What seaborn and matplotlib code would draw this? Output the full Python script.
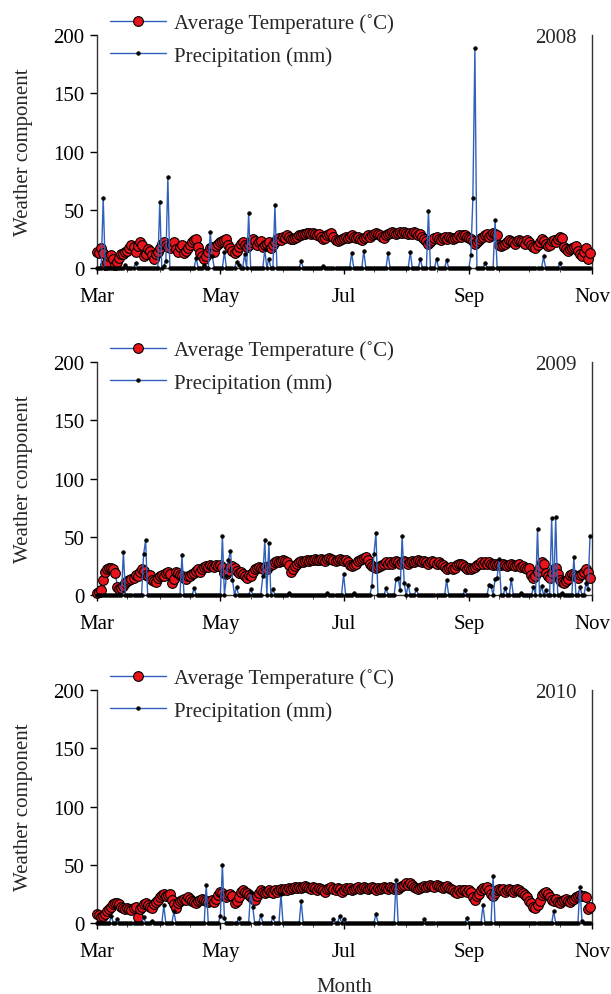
import numpy as np
import pandas as pd
import matplotlib
matplotlib.use("Agg")
import matplotlib.pyplot as plt
import seaborn as sns

# --- colours ---
LINE_BLUE = "#3060B8"
DOT_RED = "#E8141C"

# --- data: one value per day, 1 Mar (day 0) .. 31 Oct (day 244) ---
YEARS = ["2008", "2009", "2010"]
MONTH_LABELS = ["Mar", "May", "Jul", "Sep", "Nov"]
MONTH_DAYS = [0, 61, 122, 184, 245]
HALF_MONTH_DAYS = [15, 31, 46, 76, 92, 107, 137, 153, 168, 199, 214, 229]

TEMP_2008 = [
    14, 13, 17, 13, 3, 5, 10, 11, 8, 3,
    5, 9, 12, 12, 14, 15, 17, 20, 18, 14,
    19, 22, 20, 10, 12, 16, 15, 11, 8, 12,
    14, 17, 21, 22, 20, 18, 17, 20, 22, 16,
    14, 18, 20, 13, 15, 17, 20, 22, 24, 25,
    18, 13, 10, 8, 10, 14, 17, 18, 14, 19,
    21, 22, 23, 24, 25, 20, 17, 15, 13, 15,
    18, 21, 22, 20, 18, 20, 22, 25, 23, 20,
    22, 23, 18, 20, 21, 22, 17, 20, 22, 25,
    26, 24, 27, 26, 28, 27, 25, 25, 26, 27,
    28, 28, 29, 29, 30, 30, 29, 30, 29, 28,
    29, 27, 25, 26, 28, 29, 30, 27, 24, 23,
    24, 25, 26, 27, 26, 27, 28, 27, 26, 27,
    25, 24, 26, 27, 28, 27, 28, 29, 30, 29,
    28, 27, 26, 28, 29, 30, 31, 30, 29, 30,
    31, 30, 31, 30, 29, 30, 29, 31, 30, 28,
    29, 27, 25, 23, 21, 22, 24, 26, 27, 25,
    24, 26, 27, 25, 27, 26, 25, 26, 27, 28,
    27, 28, 28, 27, 26, 25, 23, 21, 22, 24,
    26, 27, 28, 29, 27, 28, 30, 29, 28, 20,
    19, 20, 21, 22, 24, 23, 22, 21, 23, 24,
    23, 22, 21, 24, 22, 20, 18, 17, 20, 22,
    25, 23, 21, 19, 20, 23, 24, 22, 25, 27,
    26, 18, 16, 15, 16, 17, 18, 19, 15, 12,
    10, 14, 17, 8, 13,
]
RAIN_DAYS_2008 = [3, 14, 19, 31, 33, 34, 35, 49, 53, 56, 57, 63, 69, 70, 73, 75,
                  83, 85, 88, 101, 112, 126, 132, 144, 155, 160, 164, 168, 173,
                  185, 186, 187, 192, 197, 221, 229]
RAIN_MM_2008 = [60, 3, 4, 57, 2, 6, 78, 9, 3, 31, 10, 14, 5, 3, 12, 47,
                16, 8, 54, 6, 2, 13, 15, 13, 14, 8, 49, 8, 7,
                11, 60, 189, 4, 41, 10, 4]

TEMP_2009 = [
    2, 3, 4, 13, 20, 22, 23, 23, 22, 19,
    7, 5, 6, 8, 10, 12, 13, 14, 15, 17,
    16, 20, 22, 21, 17, 16, 17, 13, 12, 11,
    15, 16, 17, 16, 19, 20, 18, 10, 14, 20,
    19, 17, 16, 15, 14, 16, 16, 18, 19, 21,
    22, 20, 22, 24, 25, 24, 26, 25, 24, 26,
    25, 26, 24, 19, 18, 21, 24, 25, 23, 21,
    19, 20, 18, 16, 15, 17, 16, 20, 22, 23,
    24, 23, 22, 24, 22, 25, 26, 27, 28, 29,
    28, 29, 30, 29, 28, 26, 20, 22, 25, 27,
    28, 29, 28, 29, 30, 29, 30, 30, 31, 30,
    30, 31, 30, 29, 31, 32, 31, 30, 29, 30,
    31, 30, 29, 30, 28, 26, 25, 26, 27, 29,
    30, 31, 32, 33, 30, 27, 25, 24, 23, 24,
    25, 26, 27, 28, 27, 28, 27, 28, 29, 28,
    27, 28, 29, 28, 27, 28, 29, 28, 29, 30,
    29, 28, 29, 28, 27, 28, 29, 28, 27, 28,
    27, 26, 24, 22, 23, 24, 22, 23, 26, 27,
    27, 26, 24, 22, 23, 22, 23, 24, 26, 27,
    28, 27, 28, 27, 28, 27, 26, 27, 26, 27,
    26, 27, 26, 25, 26, 27, 26, 25, 26, 27,
    24, 25, 23, 22, 23, 17, 15, 16, 20, 24,
    28, 27, 19, 16, 15, 19, 22, 23, 18, 13,
    11, 10, 12, 14, 17, 18, 17, 16, 15, 17,
    18, 20, 22, 20, 15,
]
RAIN_DAYS_2009 = [13, 23, 24, 42, 48, 62, 64, 65, 66, 67, 69, 76, 82, 83, 85, 87,
                  95, 114, 122, 127, 136, 137, 138, 143, 148, 149, 150, 151, 152,
                  154, 158, 173, 182, 194, 195, 197, 198, 199, 202, 205, 210, 216,
                  218, 220, 222, 225, 227, 230, 236, 239, 242, 243, 244]
RAIN_MM_2009 = [37, 35, 47, 34, 6, 51, 16, 30, 38, 13, 7, 5, 16, 47, 45, 5,
                2, 2, 18, 2, 8, 35, 53, 6, 14, 15, 4, 51, 10,
                9, 5, 13, 4, 9, 8, 14, 15, 31, 6, 14, 2, 7,
                57, 8, 4, 66, 67, 2, 33, 7, 10, 5, 51]

TEMP_2010 = [
    8, 7, 5, 6, 8, 10, 12, 14, 16, 17,
    17, 16, 14, 13, 12, 13, 12, 11, 13, 14,
    5, 12, 14, 16, 17, 15, 14, 13, 16, 18,
    20, 22, 24, 25, 23, 24, 25, 20, 16, 13,
    17, 19, 20, 21, 20, 22, 21, 19, 18, 17,
    19, 20, 21, 20, 19, 18, 19, 20, 18, 21,
    24, 27, 26, 23, 22, 24, 25, 23, 17, 19,
    22, 27, 28, 27, 26, 24, 22, 21, 20, 23,
    26, 28, 27, 26, 27, 28, 27, 26, 28, 27,
    28, 29, 28, 29, 28, 30, 29, 30, 31, 30,
    31, 30, 31, 32, 31, 30, 29, 31, 30, 28,
    30, 29, 28, 27, 29, 30, 31, 29, 28, 30,
    29, 27, 28, 30, 29, 30, 28, 29, 30, 31,
    29, 30, 31, 30, 29, 30, 31, 30, 28, 30,
    29, 30, 31, 30, 29, 31, 30, 29, 30, 29,
    31, 32, 33, 34, 33, 34, 33, 31, 30, 29,
    30, 31, 32, 31, 32, 33, 32, 31, 33, 32,
    31, 30, 31, 32, 30, 29, 28, 27, 26, 28,
    27, 28, 28, 27, 28, 27, 22, 20, 23, 25,
    28, 30, 29, 31, 28, 25, 23, 26, 28, 29,
    28, 29, 27, 28, 29, 28, 27, 28, 29, 28,
    27, 26, 24, 22, 19, 17, 14, 13, 15, 19,
    24, 26, 27, 25, 22, 20, 19, 21, 18, 17,
    19, 20, 21, 19, 18, 20, 21, 22, 23, 24,
    23, 23, 22, 12, 14,
]
RAIN_DAYS_2010 = [7, 10, 23, 27, 33, 38, 54, 61, 62, 63, 70, 76, 77, 81, 87, 91,
                  101, 117, 120, 122, 138, 148, 162, 183, 191, 196, 226, 239, 240]
RAIN_MM_2010 = [6, 3, 5, 2, 15, 10, 33, 6, 50, 4, 4, 27, 14, 7, 5, 25,
                19, 3, 6, 3, 8, 37, 3, 4, 15, 40, 10, 31, 2]

TEMPS = [TEMP_2008, TEMP_2009, TEMP_2010]
RAIN_DAYS = [RAIN_DAYS_2008, RAIN_DAYS_2009, RAIN_DAYS_2010]
RAIN_MM = [RAIN_MM_2008, RAIN_MM_2009, RAIN_MM_2010]
N_DAYS = 245


def daily_frame(temp, rain_days, rain_mm):
    """One row per day with temperature and rainfall (0 on dry days)."""
    rain = np.zeros(len(temp))
    rain[rain_days] = rain_mm
    return pd.DataFrame({"day": np.arange(len(temp)), "temp": temp, "rain": rain})


sns.set_style("ticks")
plt.rcParams["font.family"] = ["Liberation Serif", "DejaVu Serif"]
plt.rcParams["font.size"] = 15

fig = plt.figure(figsize=(6.11, 9.95), dpi=100)
bottoms = [0.7296, 0.401, 0.0714]

for i, year in enumerate(YEARS):
    ax = fig.add_axes([0.159, bottoms[i], 0.81, 0.234])
    df = daily_frame(TEMPS[i], RAIN_DAYS[i], RAIN_MM[i])

    sns.lineplot(data=df, x="day", y="temp", ax=ax, errorbar=None,
                 color=LINE_BLUE, linewidth=1.0, marker="o", markersize=7,
                 markerfacecolor=DOT_RED, markeredgecolor="black",
                 markeredgewidth=0.8, clip_on=False, zorder=3,
                 label="Average Temperature (˚C)")
    sns.lineplot(data=df, x="day", y="rain", ax=ax, errorbar=None,
                 color=LINE_BLUE, linewidth=1.0, marker="o", markersize=2.6,
                 markerfacecolor="black", markeredgecolor="black",
                 markeredgewidth=0.5, clip_on=False, zorder=4,
                 label="Precipitation (mm)")

    ax.set_xlim(0, N_DAYS)
    ax.set_ylim(0, 200)
    ax.set_yticks([0, 50, 100, 150, 200])
    ax.set_xticks(MONTH_DAYS)
    ax.set_xticklabels(MONTH_LABELS)
    ax.set_xticks(HALF_MONTH_DAYS, minor=True)
    ax.tick_params(axis="both", labelsize=15, direction="out", width=1, colors="black")
    ax.tick_params(axis="y", length=5, pad=4)
    ax.tick_params(axis="x", which="major", length=4, pad=10)
    ax.tick_params(axis="x", which="minor", length=3)

    ax.spines["top"].set_visible(False)
    for side in ["left", "right", "bottom"]:
        ax.spines[side].set_color("#333333")
        ax.spines[side].set_linewidth(1.0)

    ax.set_ylabel("Weather component", fontsize=15, labelpad=15)
    ax.set_xlabel("Month" if i == 2 else "", fontsize=15, labelpad=11)

    ax.text(0.968, 0.99, year, transform=ax.transAxes, ha="right", va="center",
            fontsize=15)

    ax.legend(loc="upper left", bbox_to_anchor=(0.026, 1.095), frameon=False,
              fontsize=15, handlelength=2.7, handletextpad=0.35,
              labelspacing=0.62, borderpad=0, borderaxespad=0)

fig.savefig("out.png", dpi=100)
